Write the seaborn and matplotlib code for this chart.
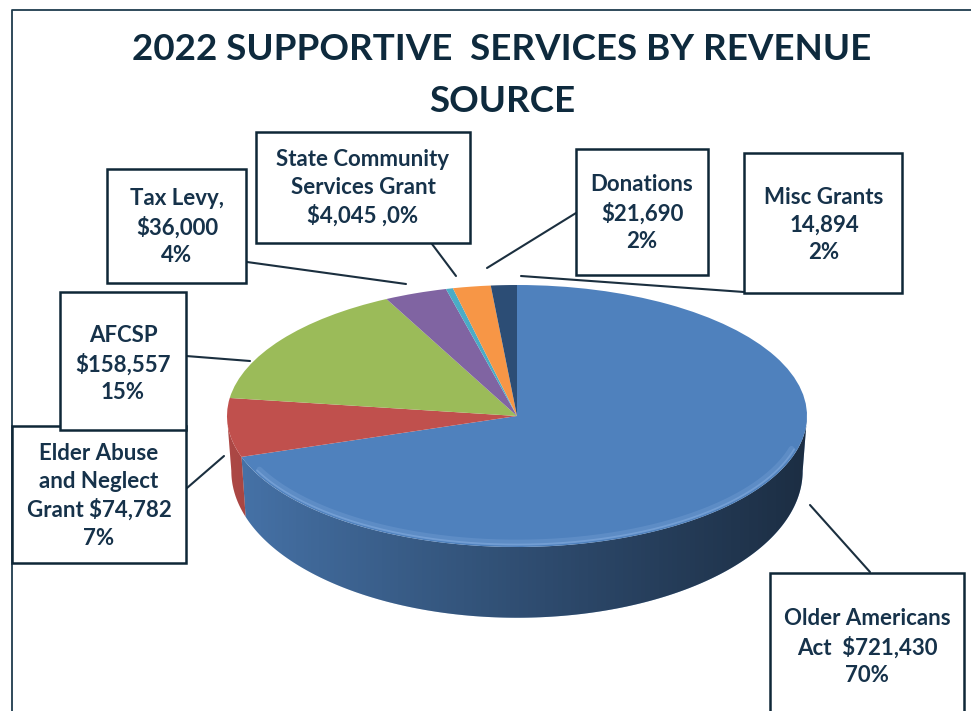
import numpy as np
import matplotlib
matplotlib.use("Agg")
import matplotlib.pyplot as plt
from matplotlib.patches import Polygon, Rectangle
import seaborn as sns

# Revenue sources, clockwise from 12 o'clock
sources = ["Older Americans Act", "Elder Abuse and Neglect Grant", "AFCSP",
           "Tax Levy", "State Community Services Grant", "Donations", "Misc Grants"]
amounts = [721430, 74782, 158557, 36000, 4045, 21690, 14894]
percent_labels = ["70%", "7%", "15%", "4%", "0%", "2%", "2%"]
label_texts = [
    "Older Americans\nAct  $721,430\n70%",
    "Elder Abuse\nand Neglect\nGrant $74,782\n7%",
    "AFCSP\n$158,557\n15%",
    "Tax Levy,\n$36,000\n4%",
    "State Community\nServices Grant\n$4,045 ,0%",
    "Donations\n$21,690\n2%",
    "Misc Grants\n14,894\n2%",
]
slice_colors = ["#4F81BD", "#C0504D", "#9BBB59", "#8064A2", "#4BACC6", "#F79646", "#2C4D75"]

sns.set_theme(style="white")
plt.rcParams["font.family"] = ["Lato", "DejaVu Sans"]
plt.rcParams["font.weight"] = "bold"

W, H = 971, 711
fig = plt.figure(figsize=(W / 100, H / 100), dpi=100)
fig.patch.set_facecolor("white")

# pixel-space axes for frame, title, callout boxes and leader lines
bg = fig.add_axes([0, 0, 1, 1])
bg.set_xlim(0, W)
bg.set_ylim(H, 0)
bg.axis("off")

# pie axes: one unit = half the ellipse width / height of the top face
cx, cy, rx, ry = 517, 416, 290, 131
drop, bottom_sy, bottom_sx = 0.42, 1.12, 0.985
pax = fig.add_axes([0, 0, 1, 1])
pax.patch.set_alpha(0)

top_wedges, _ = pax.pie(amounts, colors=slice_colors, startangle=90, counterclock=False,
                        radius=1, center=(0, 0), wedgeprops=dict(linewidth=0),
                        frame=False)
for w in top_wedges:
    w.set_zorder(5)

# horizontal shading for the side wall: lighter on the left, deep navy on the right
grad = np.zeros((1, 256, 4))
s = np.linspace(0, 1, 256)
grad[0, :, 3] = 0.10 + 0.55 * s ** 0.9

# side wall of the front half, built from each wedge's angular span
for w in top_wedges:
    t1, t2 = w.theta1, w.theta2
    for lo, hi in ((-180, 0), (180, 360)):
        a, b = max(t1, lo), min(t2, hi)
        if b <= a:
            continue
        t = np.radians(np.linspace(a, b, 200))
        top = np.column_stack([np.cos(t), np.sin(t)])
        tb = t[::-1]
        bot = np.column_stack([bottom_sx * np.cos(tb), bottom_sy * np.sin(tb) - drop])
        side = Polygon(np.vstack([top, bot]), closed=True, facecolor=w.get_facecolor(),
                       edgecolor="none", zorder=2)
        pax.add_patch(side)
        shade = pax.imshow(grad, extent=[-1, 1, -1.6, 0], aspect="auto",
                           zorder=3, interpolation="bilinear")
        shade.set_clip_path(side)

# soft bevel along the front rim of the top face
t = np.radians(np.linspace(205, 345, 300))
pax.plot(0.98 * np.cos(t), 0.965 * np.sin(t), color="#8fb5e6", lw=4, alpha=0.22,
         zorder=6, solid_capstyle="round")
pax.plot(0.99 * np.cos(t), 0.982 * np.sin(t), color="#8fb5e6", lw=1.4, alpha=0.45,
         zorder=6, solid_capstyle="round")

pax.set_aspect("auto")
pax.set_xlim((0 - cx) / rx, (W - cx) / rx)
pax.set_ylim((cy - H) / ry, cy / ry)
pax.axis("off")

# chart frame (runs off the right and bottom edges)
ink = "#16324a"
bg.plot([12, 12, W + 5], [H + 5, 10, 10], color="#1f3b4d", lw=1.3, zorder=1)

# title
bg.text(502, 49, "2022 SUPPORTIVE  SERVICES BY REVENUE", ha="center", va="center",
        fontsize=26.5, fontweight="bold", color="#0e2a3d")
bg.text(502, 101, "SOURCE", ha="center", va="center",
        fontsize=26.5, fontweight="bold", color="#0e2a3d")

# callout boxes: (x0, y0, x1, y1) and text centre
boxes = [
    (770, 573, 964, 725, 867, 647),
    (12, 426, 186, 563, 99, 496),
    (60, 292, 186, 430, 123, 364),
    (107, 169, 246, 283, 177, 227),
    (256, 132, 470, 243, 363, 188),
    (576, 149, 708, 275, 642, 213),
    (744, 153, 902, 293, 824, 225),
]
leaders = [
    ((870, 572), (810, 505)),
    ((187, 488), (224, 456)),
    ((186, 356), (250, 361)),
    ((247, 262), (406, 284)),
    ((432, 244), (456, 276)),
    ((576, 213), (487, 268)),
    ((744, 292), (521, 276)),
]
for (x0, y0, x1, y1, tx, ty), txt, (p, q) in zip(boxes, label_texts, leaders):
    bg.add_patch(Rectangle((x0, y0), x1 - x0, y1 - y0, facecolor="white",
                           edgecolor="#0f2737", lw=1.8, zorder=3))
    bg.text(tx, ty, txt, ha="center", va="center", fontsize=16, fontweight="bold",
            color=ink, linespacing=1.38, zorder=4)
    bg.plot([p[0], q[0]], [p[1], q[1]], color="#1b2f3f", lw=1.5, zorder=2)

fig.savefig("out.png", dpi=100, facecolor="white")
